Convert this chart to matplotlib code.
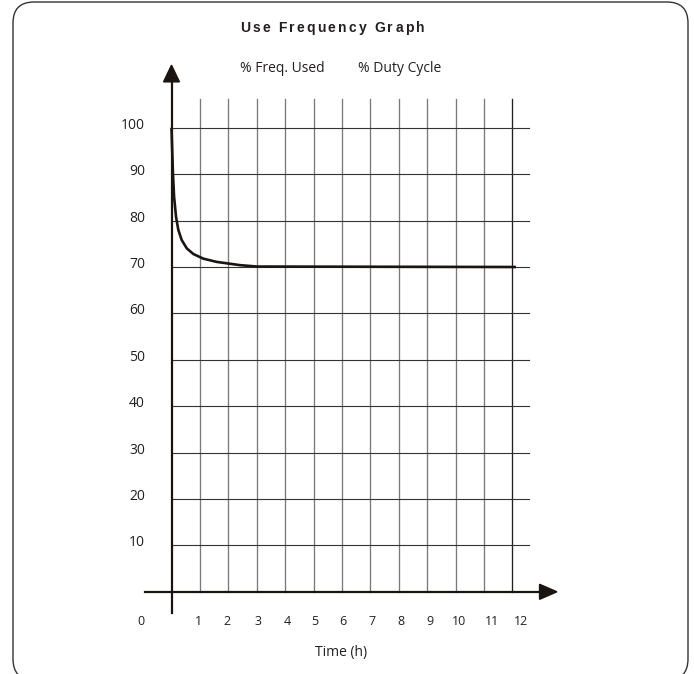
import matplotlib.pyplot as plt
from matplotlib.patches import FancyBboxPatch, Polygon
from matplotlib.transforms import IdentityTransform

# curve: time (h) vs % used
hours = [0, 0.05, 0.09, 0.16, 0.24, 0.36, 0.54, 0.77, 1.12, 1.59, 2.06, 2.41, 3.0, 12.13]
use_pct = [100, 90.4, 85.2, 80.8, 78.0, 75.8, 74.0, 72.8, 71.8, 71.1, 70.7, 70.4, 70.1, 70.0]

x_ticks = list(range(1, 13))
y_ticks = list(range(10, 101, 10))
legend_items = ['% Freq. Used', '% Duty Cycle']
title = 'Use Frequency Graph'

# where the x tick labels sit (they drift a little from the grid lines)
x_label_pos = [0.94, 1.94, 3.06, 4.08, 5.05, 6.05, 7.05, 8.08, 9.1, 10.13, 11.27, 12.31]

W, H = 694, 674
px_per_h = 28.4
x0_px = 171.5
px_per_pct = 4.64
y0_px = 591.8

ink = '#231f20'
font = 'Open Sans'

fig = plt.figure(figsize=(W / 100, H / 100), dpi=100)
ax = fig.add_axes([0, 0, 1, 1])
ax.set_xlim(-x0_px / px_per_h, (W - x0_px) / px_per_h)
ax.set_ylim((y0_px - H) / px_per_pct, y0_px / px_per_pct)
ax.axis('off')

# rounded frame round the whole picture (pixel coords)
frame = FancyBboxPatch((13, H - 680), 675, 678,
                       boxstyle='round,pad=0,rounding_size=21',
                       transform=IdentityTransform(),
                       facecolor='none', edgecolor='#333333', linewidth=1.0)
fig.add_artist(frame)

# grid
for x in x_ticks:
    c = ink if x == x_ticks[-1] else '#7a7a7a'
    ax.plot([x, x], [0, 106.2], color=c, linewidth=0.95, zorder=1)
for y in y_ticks:
    ax.plot([0, 12.59], [y, y], color='#333333', linewidth=0.8, zorder=2)

# curve
ax.plot(hours, use_pct, color='#1a1512', linewidth=1.9,
        solid_capstyle='butt', solid_joinstyle='round', zorder=3)

# axes with arrow heads
ax.plot([0, 0], [-4.6, 110.5], color='#1a1410', linewidth=1.6, zorder=4)
ax.add_patch(Polygon([(-0.28, 109.9), (0.28, 109.9), (0, 113.5)],
                     closed=True, color='#1a1410', zorder=4))
ax.plot([-0.93, 13.1], [0, 0], color='#1a1410', linewidth=1.6, zorder=4)
ax.add_patch(Polygon([(12.96, -1.62), (12.96, 1.62), (13.57, 0)],
                     closed=True, color='#1a1410', zorder=4))

# tick labels
for y in y_ticks:
    ax.text(-0.93, y - 0.2, str(y), ha='right', va='baseline',
            fontsize=10, family=font, color=ink)
for x, pos in zip(x_ticks, x_label_pos):
    ax.text(pos, -7.2, str(x), ha='center', va='baseline',
            fontsize=9, family=font, color=ink)
ax.text(-1.07, -7.2, '0', ha='center', va='baseline',
        fontsize=9, family=font, color=ink)

ax.text(5.97, -13.9, 'Time (h)', ha='center', va='baseline',
        fontsize=10, family=font, color=ink)


# title with wide letter spacing, laid out glyph by glyph
def spaced_text(s, cx, y, size, gap_px):
    r = fig.canvas.get_renderer()
    widths = []
    for ch in s:
        if ch == ' ':
            widths.append(size * 100 / 72 * 0.278)
            continue
        t = ax.text(0, 0, ch, fontsize=size, family='Liberation Sans',
                    fontweight='bold')
        widths.append(t.get_window_extent(r).width)
        t.remove()
    total = sum(widths) + gap_px * (len(s) - 1)
    px, py = ax.transData.transform((cx, y))
    left = px - total / 2
    inv = ax.transData.inverted()
    for ch, w in zip(s, widths):
        if ch != ' ':
            xd = inv.transform((left, py))[0]
            ax.text(xd, y, ch, ha='left', va='baseline', fontsize=size,
                    family='Liberation Sans', fontweight='bold', color=ink)
        left += w + gap_px


spaced_text(title, 5.65, 120.7, 10, 2.2)

ax.text(3.9, 112.0, legend_items[0], ha='center', va='baseline',
        fontsize=10, family=font, color=ink)
ax.text(8.02, 112.0, legend_items[1], ha='center', va='baseline',
        fontsize=10, family=font, color=ink)

fig.savefig('out.png', dpi=100)
